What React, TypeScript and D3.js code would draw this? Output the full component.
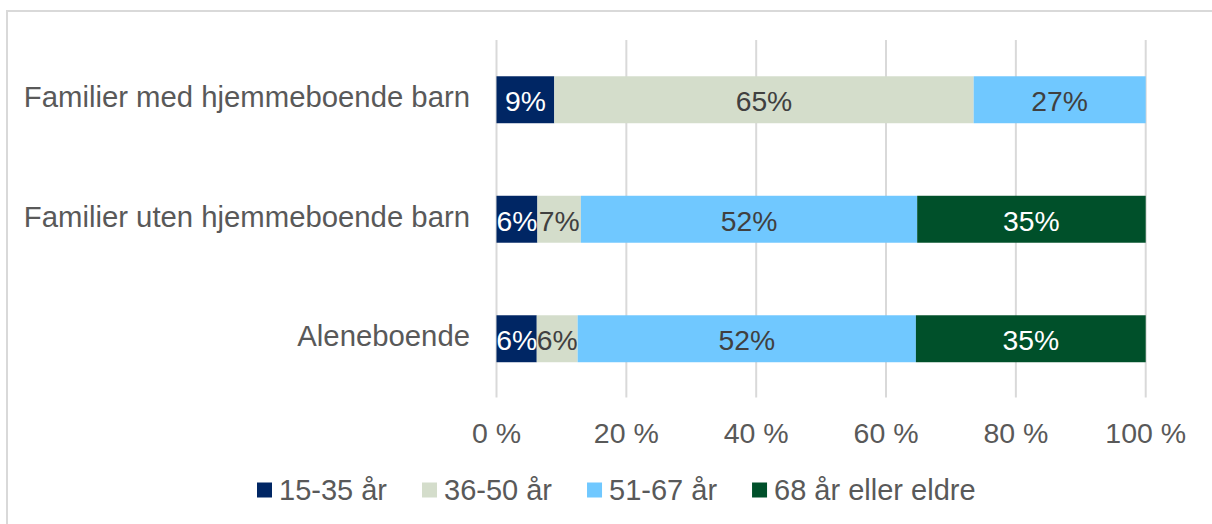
import React, { useEffect, useRef } from "react";
import * as d3 from "d3";

const categories = [
  "Familier med hjemmeboende barn",
  "Familier uten hjemmeboende barn",
  "Aleneboende",
];
const seriesNames = ["15-35 år", "36-50 år", "51-67 år", "68 år eller eldre"];
const age15to35 = [8.9, 6.3, 6.2];
const age36to50 = [64.6, 6.7, 6.3];
const age51to67 = [26.5, 51.8, 52.1];
const age68plus = [0, 35.2, 35.4];
const tickValues = [0, 20, 40, 60, 80, 100];

const seriesColors = ["#002664", "#d4ddcb", "#70c8ff", "#00502a"];
const labelColors = ["#ffffff", "#404040", "#404040", "#ffffff"];

const W = 1212;
const H = 524;
const FONT = "Liberation Sans, Arial, sans-serif";

export default function App() {
  const ref = useRef<SVGSVGElement | null>(null);

  useEffect(() => {
    const svg = d3.select(ref.current);
    svg.selectAll("*").remove();

    const seriesValues = [age15to35, age36to50, age51to67, age68plus];
    const rows = categories.map((c, i) => {
      const r: any = { cat: c };
      seriesNames.forEach((s, k) => (r[s] = seriesValues[k][i]));
      return r;
    });
    const stacked = d3.stack<any>().keys(seriesNames)(rows);

    const x = d3.scaleLinear().domain([0, 100]).range([496.5, 1145.7]);
    const y = d3
      .scaleBand<string>()
      .domain(categories)
      .range([40, 398.5])
      .paddingInner(0.607)
      .paddingOuter(0.3035);

    // border
    svg
      .append("rect")
      .attr("x", 7)
      .attr("y", 11)
      .attr("width", 1230)
      .attr("height", 540)
      .attr("fill", "none")
      .attr("stroke", "#d9d9d9")
      .attr("stroke-width", 2);

    // gridlines
    svg
      .append("g")
      .selectAll("line")
      .data(tickValues)
      .join("line")
      .attr("x1", (d) => x(d))
      .attr("x2", (d) => x(d))
      .attr("y1", 40)
      .attr("y2", 397.5)
      .attr("stroke", "#d9d9d9")
      .attr("stroke-width", 2);

    // tick labels
    svg
      .append("g")
      .selectAll("text")
      .data(tickValues)
      .join("text")
      .attr("x", (d) => x(d))
      .attr("y", 443)
      .attr("text-anchor", "middle")
      .attr("font-family", FONT)
      .attr("font-size", 28.5)
      .attr("fill", "#595959")
      .text((d) => `${d} %`);

    // category labels
    svg
      .append("g")
      .selectAll("text")
      .data(categories)
      .join("text")
      .attr("x", 470)
      .attr("y", (d) => (y(d) as number) + y.bandwidth() / 2 + 7.5)
      .attr("text-anchor", "end")
      .attr("font-family", FONT)
      .attr("font-size", 29.3)
      .attr("fill", "#595959")
      .text((d) => d);

    // bars
    stacked.forEach((layer, k) => {
      const g = svg.append("g");
      g.selectAll("rect")
        .data(layer)
        .join("rect")
        .attr("x", (d) => x(d[0]))
        .attr("y", (d) => y(d.data.cat) as number)
        .attr("width", (d) => x(d[1]) - x(d[0]))
        .attr("height", y.bandwidth())
        .attr("fill", seriesColors[k]);
    });
    stacked.forEach((layer, k) => {
      const g = svg.append("g");
      g.selectAll("text")
        .data(layer.filter((d) => d[1] - d[0] > 0))
        .join("text")
        .attr("x", (d) => (x(d[0]) + x(d[1])) / 2)
        .attr("y", (d) => (y(d.data.cat) as number) + y.bandwidth() / 2 + 11.5)
        .attr("text-anchor", "middle")
        .attr("font-family", FONT)
        .attr("font-size", 28.3)
        .attr("fill", labelColors[k])
        .text((d) => `${Math.round(d[1] - d[0])}%`);
    });

    // legend
    const leg = svg.append("g").attr("transform", `translate(257,0)`);
    let cx = 0;
    seriesNames.forEach((s, k) => {
      leg
        .append("rect")
        .attr("x", cx)
        .attr("y", 482.5)
        .attr("width", 15)
        .attr("height", 15)
        .attr("fill", seriesColors[k]);
      const t = leg
        .append("text")
        .attr("x", cx + 22)
        .attr("y", 500)
        .attr("font-family", FONT)
        .attr("font-size", 29)
        .attr("fill", "#595959")
        .text(s);
      const w = (t.node() as SVGTextElement).getComputedTextLength();
      cx += 22 + w + 35;
    });
  }, []);

  return (
    <div style={{ position: "fixed", left: 0, top: 0, width: W, height: H, background: "#fff" }}>
      <svg ref={ref} width={W} height={H} style={{ display: "block" }} />
    </div>
  );
}
